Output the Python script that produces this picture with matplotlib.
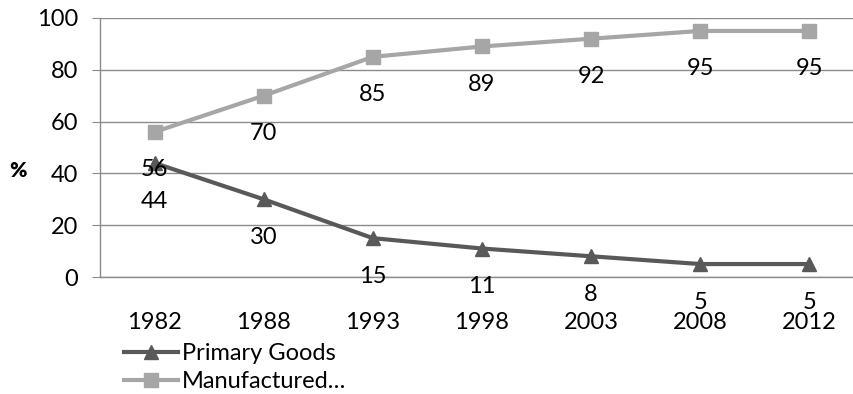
import matplotlib
matplotlib.use("Agg")
import matplotlib.pyplot as plt

years = ["1982", "1988", "1993", "1998", "2003", "2008", "2012"]
primary = [44, 30, 15, 11, 8, 5, 5]
manufactured = [56, 70, 85, 89, 92, 95, 95]
series_names = ["Primary Goods", "Manufactured\u2026"]

plt.rcParams["font.family"] = ["Lato", "DejaVu Sans"]
FS = 17

fig = plt.figure(figsize=(8.54, 3.94), dpi=100, facecolor="white")
ax = fig.add_axes([100 / 854, 1 - 277 / 394, 1 - 100 / 854, (277 - 18) / 394])

x = list(range(len(years)))
ax.plot(x, primary, color="#595959", lw=3, marker="^", ms=10,
        label=series_names[0], zorder=3)
ax.plot(x, manufactured, color="#a6a6a6", lw=3, marker="s", ms=10,
        label=series_names[1], zorder=3)

# data labels sit below each point
for xi, v in zip(x, primary):
    ax.annotate(str(v), (xi, v), xytext=(0, -38), textcoords="offset pixels",
                ha="center", va="center", fontsize=FS, color="black", zorder=4)
for xi, v in zip(x, manufactured):
    ax.annotate(str(v), (xi, v), xytext=(0, -38), textcoords="offset pixels",
                ha="center", va="center", fontsize=FS, color="black", zorder=4)

ax.set_ylim(0, 100)
ax.set_yticks(range(0, 101, 20))
ax.set_xlim(-0.5, 6.41)
ax.set_xticks(x)
ax.set_xticklabels(years)
ax.yaxis.grid(True, color="#8c8c8c", lw=1)
ax.set_axisbelow(True)

for side in ["top", "right"]:
    ax.spines[side].set_visible(False)
for side in ["left", "bottom"]:
    ax.spines[side].set_color("#8c8c8c")
    ax.spines[side].set_linewidth(1)

ax.tick_params(axis="y", length=6, color="#8c8c8c", pad=10, labelsize=FS)
ax.tick_params(axis="x", length=0, pad=25, labelsize=FS)

fig.text(18 / 854, 1 - 170 / 394, "%", fontsize=FS - 2, fontweight="heavy",
         ha="center", va="center")

fig.legend(loc="upper left", bbox_to_anchor=(124 / 854, 1 - 343 / 394),
           frameon=False, fontsize=FS, handlelength=2.3, handletextpad=0.15,
           labelspacing=0.3, borderpad=0, borderaxespad=0)

fig.savefig("out.png", dpi=100)
